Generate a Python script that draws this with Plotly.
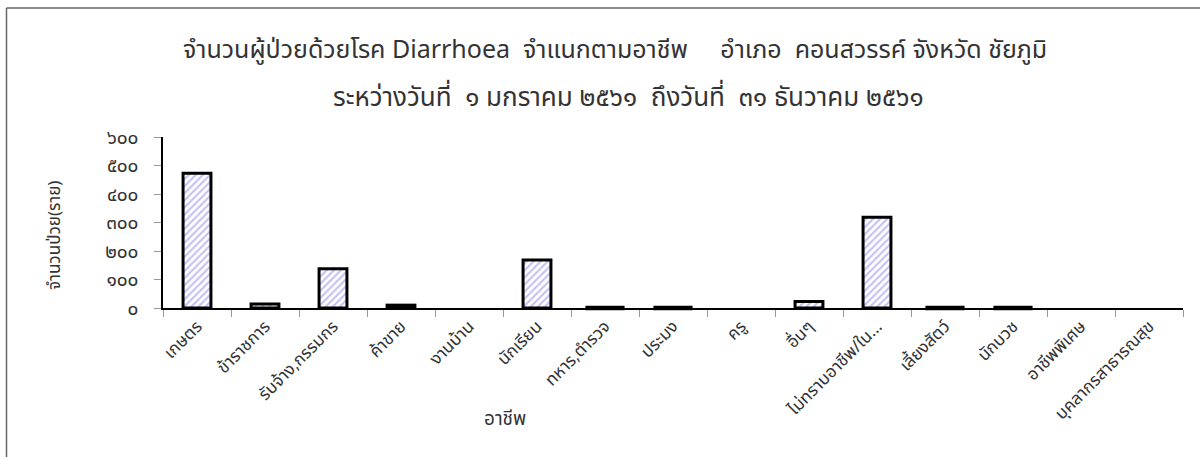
import plotly.graph_objects as go

# Occupation categories and patient counts (None = no record)
occupations = [
    "เกษตร", "ข้าราชการ", "รับจ้าง,กรรมกร", "ค้าขาย", "งานบ้าน", "นักเรียน",
    "ทหาร,ตำรวจ", "ประมง", "ครู", "อื่นๆ", "ไม่ทราบอาชีพ/ใน...", "เลี้ยงสัตว์",
    "นักบวช", "อาชีพพิเศษ", "บุคลากรสาธารณสุข",
]
patients = [473, 14, 138, 10, None, 168, 0, 0, None, 23, 318, 0, 0, None, None]

y_tick_values = [0, 100, 200, 300, 400, 500, 600]
y_tick_labels = ["๐", "๑๐๐", "๒๐๐", "๓๐๐", "๔๐๐", "๕๐๐", "๖๐๐"]

title_line1 = "จำนวนผู้ป่วยด้วยโรค Diarrhoea  จำแนกตามอาชีพ     อำเภอ  คอนสวรรค์ จังหวัด ชัยภูมิ"
title_line2 = "ระหว่างวันที่  ๑ มกราคม ๒๕๖๑  ถึงวันที่  ๓๑ ธันวาคม ๒๕๖๑"

FONT = "Noto Sans, Noto Sans Thai, Tahoma, sans-serif"
TEXT = "#333"

# plot area in pixels: x 163..1183, y 137..308
L, R, T, B = 163, 1183, 137, 308


def px_to_paper_x(px):
    return (px - L) / (R - L)


def px_to_paper_y(py):
    return (B - py) / (B - T)


fig = go.Figure()

fig.add_trace(go.Bar(
    x=occupations,
    y=patients,
    width=0.41,
    marker=dict(
        color="white",
        line=dict(color="black", width=3),
        pattern=dict(shape="/", fgcolor="#8a8aea", bgcolor="white",
                     size=5, solidity=0.45),
    ),
    showlegend=False,
))

# zero-count bars are drawn as a flat outline on the baseline
zero_x = [c for c, v in zip(occupations, patients) if v == 0]
zero_y = [v for v in patients if v == 0]
fig.add_trace(go.Scatter(
    x=zero_x, y=zero_y, mode="markers", cliponaxis=False,
    marker=dict(symbol="line-ew", size=28, color="black",
                line=dict(color="black", width=4.5)),
    showlegend=False, hoverinfo="skip",
))

fig.update_layout(
    width=1200, height=457,
    margin=dict(l=L, r=1200 - R, t=T, b=457 - B),
    paper_bgcolor="white", plot_bgcolor="white",
    font=dict(family=FONT, color=TEXT),
)

fig.update_xaxes(
    type="category", range=[-0.5, 14.5],
    showline=True, linecolor="black", linewidth=1.5,
    ticks="outside", tickson="boundaries", ticklen=7, tickcolor="#999",
    tickangle=-45, tickfont=dict(size=17, color=TEXT),
    showgrid=False, zeroline=False,
)
fig.update_yaxes(
    range=[0, 600],
    tickvals=y_tick_values, ticktext=y_tick_labels,
    showline=True, linecolor="black", linewidth=1.5,
    ticks="outside", ticklen=7, tickcolor="#999",
    ticklabelstandoff=12,
    tickfont=dict(size=19, color=TEXT),
    showgrid=False, zeroline=False,
)

fig.add_annotation(text=title_line1, x=px_to_paper_x(615), y=px_to_paper_y(48),
                   xref="paper", yref="paper", xanchor="center", yanchor="middle",
                   showarrow=False, font=dict(size=25, color=TEXT))
fig.add_annotation(text=title_line2, x=px_to_paper_x(628), y=px_to_paper_y(96),
                   xref="paper", yref="paper", xanchor="center", yanchor="middle",
                   showarrow=False, font=dict(size=26, color=TEXT))
fig.add_annotation(text="จำนวนป่วย(ราย)", x=px_to_paper_x(53), y=px_to_paper_y(236),
                   xref="paper", yref="paper", xanchor="center", yanchor="middle",
                   textangle=-90, showarrow=False, font=dict(size=17, color=TEXT))
fig.add_annotation(text="อาชีพ", x=px_to_paper_x(505), y=px_to_paper_y(418),
                   xref="paper", yref="paper", xanchor="center", yanchor="middle",
                   showarrow=False, font=dict(size=19, color=TEXT))

# outer frame (top and left edges visible)
fig.add_shape(type="line", xref="paper", yref="paper",
              x0=px_to_paper_x(6.5), y0=px_to_paper_y(8),
              x1=px_to_paper_x(1210), y1=px_to_paper_y(8),
              line=dict(color="#666", width=1.5))
fig.add_shape(type="line", xref="paper", yref="paper",
              x0=px_to_paper_x(6.5), y0=px_to_paper_y(8),
              x1=px_to_paper_x(6.5), y1=px_to_paper_y(470),
              line=dict(color="#666", width=1.5))

fig.write_html("out.html")
